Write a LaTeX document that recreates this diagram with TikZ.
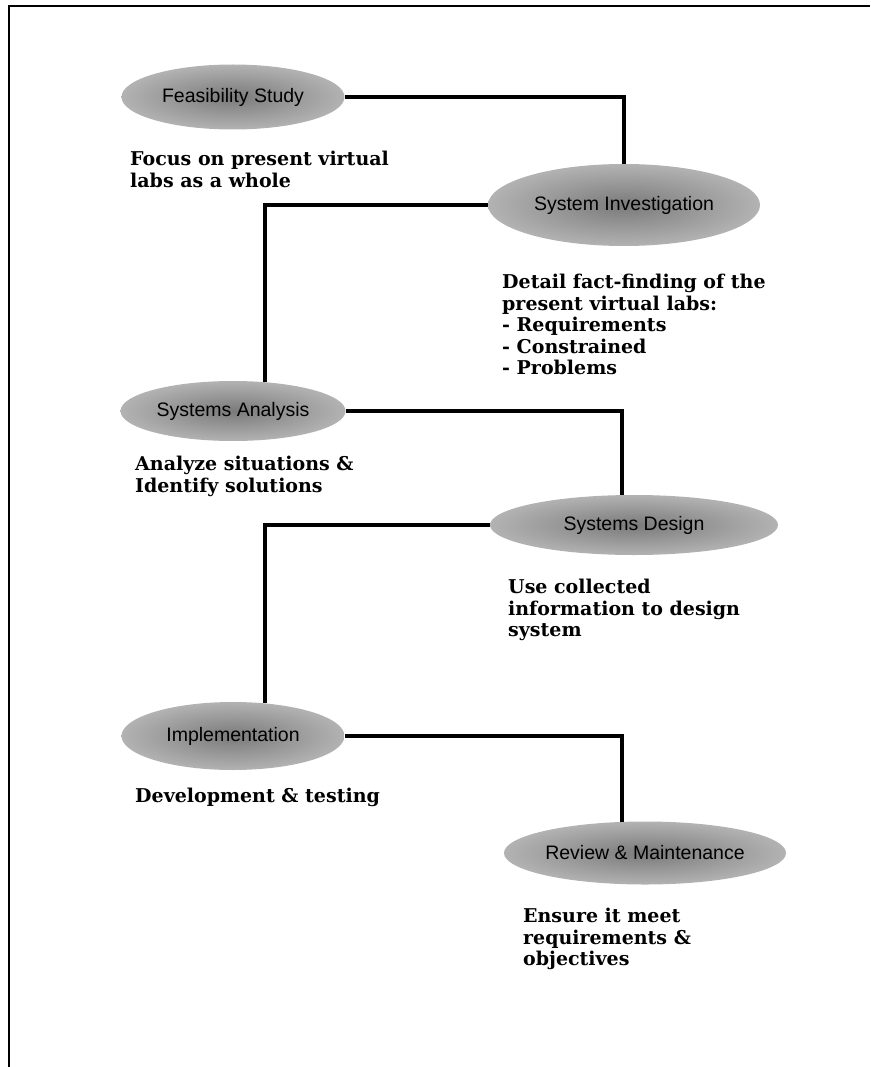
\documentclass[tikz,border=0pt]{standalone}
\usepackage{fontspec}
\setmainfont{DejaVu Serif}
\newfontfamily\lblfont{Liberation Sans}
\usetikzlibrary{shapes.geometric,calc}
\begin{document}
\begin{tikzpicture}[x=1pt,y=-1pt,
  phase/.style={ellipse, inner sep=0pt, shading=radial, inner color=black!52, outer color=black!30,
    font=\lblfont\fontsize{19.5}{21}\selectfont},
  note/.style={anchor=north west, inner sep=0pt, align=left,
    font=\bfseries\fontsize{19}{21.5}\selectfont},
  link/.style={line width=3.8pt},
  frame/.style={line width=2pt}
]
\useasboundingbox (0,0) rectangle (870,1067);
\draw[frame] (870,6) -- (9,6) -- (9,1067);

\node[phase, minimum width=223pt, minimum height=65pt] (fs) at (233,97) {Feasibility Study};
\node[phase, minimum width=272pt, minimum height=82pt] (si) at (624,205) {System Investigation};
\node[phase, minimum width=225pt, minimum height=60pt] (sa) at (233,411) {Systems Analysis};
\node[phase, minimum width=288pt, minimum height=60pt] (sd) at (634,525) {Systems Design};
\node[phase, minimum width=223pt, minimum height=68pt] (im) at (233,736) {Implementation};
\node[phase, minimum width=280pt, minimum height=63pt] (rm) at (645,853) {Review \& Maintenance};

\node[note] (t1) at (130,151) {Focus on present virtual\\labs as a whole};
\node[note] (t2) at (502,274) {Detail fact-finding of the\\present virtual labs:\\- Requirements\\- Constrained\\- Problems};
\node[note] (t3) at (135,456) {Analyze situations \&\\Identify solutions};
\node[note] (t4) at (508,579) {Use collected\\information to design\\system};
\node[note] (t5) at (135,788) {Development \& testing};
\node[note] (t6) at (523,908) {Ensure it meet\\requirements \&\\objectives};

\draw[link] (fs.east) -| (si.north);
\draw[link] (si.west) -| ($(sa.north)+(32,1)$);
\draw[link] (sa.east) -| ($(sd.north)+(-12,0)$);
\draw[link] (sd.west) -| ($(im.north)+(32,1)$);
\draw[link] (im.east) -| ($(rm.north)+(-23,1)$);
\end{tikzpicture}
\end{document}
